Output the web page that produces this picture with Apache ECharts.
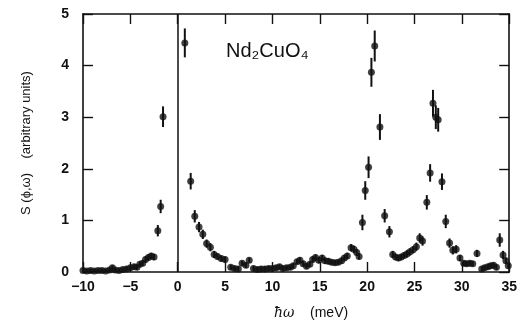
<!DOCTYPE html>
<html>
<head>
<meta charset="utf-8">
<script src="https://cdn.jsdelivr.net/npm/echarts@6/dist/echarts.min.js"></script>
<style>
  html, body { margin: 0; padding: 0; background: #fff; }
  #chart { width: 520px; height: 330px; }
</style>
</head>
<body>
<div id="chart"></div>
<script>
// energy transfer (meV)
const energy = [
  -10.0, -9.6, -9.2, -8.8, -8.4, -8.0, -7.6, -7.2, -6.9, -6.6, -6.2, -5.8, -5.4, -5.0,
  -4.6, -4.3, -4.0, -3.7, -3.4, -3.1, -2.8, -2.5, -2.1, -1.8, -1.55,
  0.75, 1.37, 1.8, 2.25, 2.65, 3.05, 3.45, 3.85, 4.2, 4.6, 5.0, 5.6, 6.0, 6.4, 6.8, 7.2,
  7.55, 8.0, 8.4, 8.8, 9.2, 9.6, 10.0, 10.4, 10.75, 11.1, 11.5, 11.9, 12.2, 12.6, 12.9,
  13.25, 13.6, 13.95, 14.25, 14.55, 14.9, 15.25, 15.55, 15.9, 16.25, 16.6, 16.95, 17.3,
  17.6, 17.9, 18.3, 18.6, 18.9, 19.15, 19.5, 19.8, 20.15, 20.45, 20.8, 21.35, 21.85,
  22.35, 22.7, 23.0, 23.3, 23.6, 23.9, 24.2, 24.5, 24.85, 25.2, 25.55, 25.85, 26.3,
  26.65, 26.95, 27.25, 27.5, 27.9, 28.3, 28.7, 29.05, 29.4, 29.8, 30.2, 30.5, 30.85,
  31.15, 31.6, 32.1, 32.4, 32.75, 33.05, 33.35, 33.65, 34.0, 34.35, 34.65, 34.9
];
// S(phi, omega), arbitrary units
const intensity = [
  0.03, 0.02, 0.03, 0.02, 0.03, 0.03, 0.02, 0.04, 0.08, 0.04, 0.03, 0.05, 0.06, 0.08,
  0.10, 0.09, 0.15, 0.17, 0.24, 0.28, 0.31, 0.29, 0.80, 1.27, 3.01,
  4.44, 1.76, 1.08, 0.87, 0.73, 0.55, 0.48, 0.34, 0.30, 0.26, 0.24, 0.09, 0.07, 0.06, 0.17, 0.13,
  0.23, 0.07, 0.05, 0.06, 0.06, 0.07, 0.07, 0.08, 0.10, 0.07, 0.08, 0.09, 0.12, 0.20, 0.23,
  0.16, 0.11, 0.15, 0.24, 0.28, 0.23, 0.27, 0.22, 0.21, 0.19, 0.18, 0.19, 0.22,
  0.27, 0.31, 0.47, 0.44, 0.38, 0.30, 0.96, 1.58, 2.03, 3.87, 4.38, 2.81, 1.09,
  0.78, 0.34, 0.29, 0.27, 0.29, 0.32, 0.35, 0.39, 0.43, 0.49, 0.66, 0.60, 1.35,
  1.92, 3.27, 3.00, 2.95, 1.75, 0.98, 0.56, 0.42, 0.44, 0.27, 0.17, 0.16, 0.17,
  0.16, 0.36, 0.06, 0.08, 0.10, 0.12, 0.13, 0.09, 0.62, 0.33, 0.22, 0.12
];
// error bar half-heights
const errBar = [
  0.04, 0.04, 0.04, 0.04, 0.04, 0.04, 0.04, 0.04, 0.05, 0.04, 0.04, 0.04, 0.05, 0.05,
  0.05, 0.05, 0.05, 0.05, 0.06, 0.06, 0.06, 0.06, 0.11, 0.13, 0.20,
  0.28, 0.16, 0.12, 0.10, 0.09, 0.08, 0.08, 0.07, 0.06, 0.06, 0.06, 0.05, 0.05, 0.05, 0.05, 0.05,
  0.05, 0.05, 0.05, 0.05, 0.05, 0.05, 0.05, 0.05, 0.05, 0.05, 0.05, 0.05, 0.05, 0.05, 0.06,
  0.05, 0.05, 0.05, 0.06, 0.06, 0.06, 0.06, 0.06, 0.06, 0.05, 0.05, 0.05, 0.06,
  0.06, 0.06, 0.07, 0.07, 0.07, 0.06, 0.15, 0.18, 0.21, 0.28, 0.30, 0.25, 0.13,
  0.11, 0.07, 0.06, 0.06, 0.06, 0.06, 0.07, 0.07, 0.07, 0.08, 0.09, 0.09, 0.14,
  0.17, 0.26, 0.23, 0.23, 0.16, 0.13, 0.09, 0.08, 0.08, 0.06, 0.05, 0.05, 0.05,
  0.05, 0.07, 0.05, 0.05, 0.05, 0.05, 0.05, 0.05, 0.13, 0.08, 0.06, 0.05
];

const points = energy.map((e, i) => [e, intensity[i], errBar[i]]);

const fontFamily = 'Liberation Sans, Arial, sans-serif';

const labelFont = {
  color: '#111',
  fontFamily: fontFamily,
  fontWeight: 'bold',
  fontSize: 14,
};

const frameLine = { show: true, onZero: false, lineStyle: { color: '#111', width: 1.6 } };
const innerTick = { show: true, inside: true, length: 10, lineStyle: { color: '#111', width: 1.4 } };

const chart = echarts.init(document.getElementById('chart'), null, { renderer: 'canvas' });

chart.setOption({
  backgroundColor: '#fff',
  animation: false,
  title: {
    text: 'Nd\u2082CuO\u2084',
    left: 226,
    top: 41,
    padding: 0,
    textStyle: {
      fontSize: 20,
      fontFamily: fontFamily,
      fontWeight: 'normal',
      color: '#111',
    },
  },
  grid: { left: 83, right: 9, top: 14, bottom: 58 },
  xAxis: [
    {
      type: 'value',
      min: -10,
      max: 35,
      interval: 5,
      axisLine: frameLine,
      axisTick: innerTick,
      splitLine: { show: false },
      axisLabel: {
        ...labelFont,
        margin: 8,
        formatter: (v) => (v < 0 ? '\u2212' + (-v) : String(v)),
      },
      name: '{i|ħω}    (meV)',
      nameLocation: 'middle',
      nameGap: 34,
      nameTextStyle: {
        color: '#111',
        fontFamily: fontFamily,
        fontSize: 14,
        padding: [0, 0, 0, 30],
        rich: { i: { fontFamily: 'DejaVu Serif, serif', fontStyle: 'italic', fontSize: 14, color: '#111' } },
      },
    },
    {
      type: 'value',
      position: 'top',
      min: -10,
      max: 35,
      interval: 5,
      axisLine: frameLine,
      axisTick: innerTick,
      axisLabel: { show: false },
      splitLine: { show: false },
    },
  ],
  yAxis: [
    {
      type: 'value',
      min: 0,
      max: 5,
      interval: 1,
      axisLine: frameLine,
      axisTick: innerTick,
      splitLine: { show: false },
      axisLabel: { ...labelFont, margin: 14 },
      name: 'S (ϕ,ω)    (arbitrary units)',
      nameLocation: 'middle',
      nameGap: 50,
      nameRotate: 90,
      nameTextStyle: {
        color: '#111',
        fontFamily: fontFamily,
        fontSize: 13,
      },
    },
    {
      type: 'value',
      position: 'right',
      min: 0,
      max: 5,
      interval: 1,
      axisLine: frameLine,
      axisTick: innerTick,
      axisLabel: { show: false },
      splitLine: { show: false },
    },
  ],
  series: [
    {
      name: 'errors',
      type: 'custom',
      xAxisIndex: 0,
      yAxisIndex: 0,
      data: points,
      renderItem: (params, api) => {
        const x = api.value(0);
        const y = api.value(1);
        const e = api.value(2);
        const hi = api.coord([x, y + e]);
        const lo = api.coord([x, Math.max(0, y - e)]);
        return {
          type: 'line',
          shape: { x1: hi[0], y1: hi[1], x2: lo[0], y2: lo[1] },
          style: { stroke: '#111', lineWidth: 2 },
        };
      },
      markLine: {
        silent: true,
        symbol: 'none',
        label: { show: false },
        lineStyle: { color: '#111', width: 1.5, type: 'solid' },
        data: [{ xAxis: 0 }],
      },
      z: 2,
    },
    {
      name: 'S',
      type: 'scatter',
      xAxisIndex: 0,
      yAxisIndex: 0,
      data: points.map((p) => [p[0], p[1]]),
      symbol: 'circle',
      symbolSize: 7,
      itemStyle: { color: '#111' },
      z: 3,
    },
  ],
});
</script>
</body>
</html>
